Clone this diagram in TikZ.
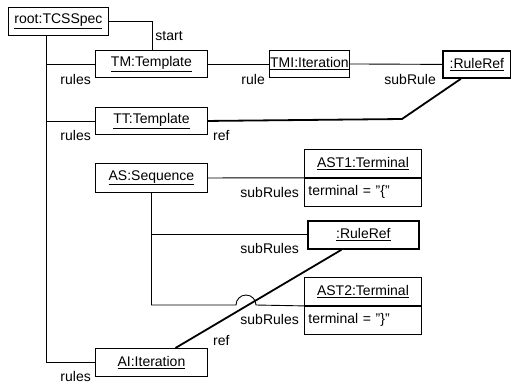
\documentclass[tikz,border=0pt]{standalone}
\usepackage{fontspec}
\setmainfont{Liberation Sans}
\newcommand{\uname}[1]{\underline{#1}}
\begin{document}
\begin{tikzpicture}[x=1pt,y=-1pt]
  \tikzset{obj/.style={draw, line width=0.9pt, inner sep=0pt, anchor=north west, minimum height=27pt},
    refobj/.style={obj, line width=1.8pt},
    attr/.style={draw, line width=0.9pt, anchor=north west, inner xsep=4pt, inner ysep=0pt, text width=109pt, align=left, minimum height=28pt},
    lbl/.style={inner sep=0pt},
    link/.style={line width=0.9pt},
    reflink/.style={line width=1.8pt}}
  \useasboundingbox (0,0) rectangle (511,384);
  \fontsize{14}{16}\selectfont
  \node[obj, minimum width=100pt, minimum height=28pt] at (8,7) (root) {\uname{root:TCSSpec}};
  \node[obj, minimum width=112pt] at (95,50) (tm) {\uname{TM:Template}};
  \node[obj, minimum width=80pt] at (269,50) (tmi) {\uname{TMI:Iteration}};
  \node[refobj, minimum width=68pt] at (442,50) (rr1) {\uname{:RuleRef}};
  \node[obj, minimum width=112pt] at (95,107) (tt) {\uname{TT:Template}};
  \node[obj, minimum width=112pt, minimum height=29pt] at (95,163) (as) {\uname{AS:Sequence}};
  \node[obj, minimum width=117pt, minimum height=28pt] at (304,149) (ast1) {\uname{AST1:Terminal}};
  \node[attr] at (ast1.south west) (ast1a) {terminal = "\{"};
  \node[refobj, minimum width=111pt, minimum height=28pt] at (307,220) (rr2) {\uname{:RuleRef}};
  \node[obj, minimum width=117pt, minimum height=28pt] at (304,277) (ast2) {\uname{AST2:Terminal}};
  \node[attr] at (ast2.south west) (ast2a) {terminal = "\}"};
  \node[obj, minimum width=112pt, minimum height=28pt] at (95,348) (ai) {\uname{AI:Iteration}};

  \coordinate (trunk) at ([xshift=-12pt]root.south);
  \coordinate (ttbend) at (402,119);
  \coordinate (rr1foot) at ([xshift=-16pt]rr1.south);
  \coordinate (hop) at (236,305);
  \coordinate (aifoot) at ([xshift=24pt]ai.north);
  \coordinate (rr2foot) at ([xshift=-22pt]rr2.south);

  \draw[link] (root.east) -| (tm.north -| 152,0) node[lbl, anchor=west, pos=0.75, xshift=3pt] (lstart) {start};
  \draw[link] (trunk) |- (tm.west);
  \draw[link] (trunk) |- (tt.west);
  \draw[link] (trunk) |- (ai.west);
  \draw[link] (tm.east) -- (tmi.west);
  \draw[link] (tmi.east) -- (rr1.west);
  \draw[reflink] (tt.east) -- (ttbend) -- (rr1foot);
  \draw[link] (as.east) -- (ast1a.north west);
  \draw[link] (as.south) |- (rr2.west);
  \draw[link] (as.south) |- (hop) arc (180:360:10) -- (ast2a.north west);
  \draw[reflink] (aifoot) -- (rr2foot);

  \node[lbl, anchor=east] at (91,79) (lrules1) {rules};
  \node[lbl, anchor=east] at (91,135) (lrules2) {rules};
  \node[lbl, anchor=east] at (91,376) (lrules3) {rules};
  \node[lbl, anchor=east] at (265,79) (lrule) {rule};
  \node[lbl, anchor=east] at (436,79) (lsubrule) {subRule};
  \node[lbl, anchor=west] at (213,135) (lref1) {ref};
  \node[lbl, anchor=east] at (299,192) (lsub1) {subRules};
  \node[lbl, anchor=east] at (299,248) (lsub2) {subRules};
  \node[lbl, anchor=east] at (299,319) (lsub3) {subRules};
  \node[lbl, anchor=west] at (213,340) (lref2) {ref};
\end{tikzpicture}
\end{document}
